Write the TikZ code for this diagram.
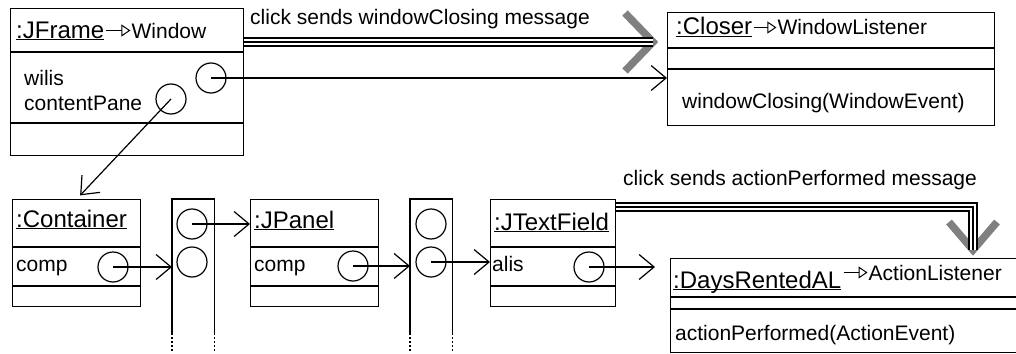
\documentclass[tikz,border=0pt]{standalone}
\usepackage{fontspec}
\setmainfont{Liberation Sans}
\usetikzlibrary{arrows.meta}
\usetikzlibrary{calc}
\usetikzlibrary{positioning}

\newcommand\txtfont{\fontsize{21pt}{25pt}\selectfont}
\newcommand\namefont{\fontsize{24pt}{28pt}\selectfont}
\newcommand\objname[1]{\underline{\raisebox{0pt}[\height][0pt]{#1}}}

\tikzset{
	obj/.style={draw, line width=1.4pt, rectangle, inner sep=0pt, anchor=north west},
	arr/.style={rectangle, inner sep=0pt, anchor=north west, minimum width=42pt, minimum height=134pt},
	slot/.style={draw, circle, line width=1.2pt, inner sep=0pt, minimum size=30pt},
	txt/.style={anchor=base west, inner sep=0pt, font=\txtfont},
	oname/.style={txt, font=\namefont},
	wall/.style={line width=1.4pt},
	ref/.style={line width=1.2pt, -{Straight Barb[length=15pt,width=25pt]}},
	realize/.style={line width=1pt, -{Triangle[open,length=9pt,width=12pt]}, shorten <=2pt, shorten >=1pt},
	msg/.style={line width=9.5pt, postaction={draw=white, line width=6.5pt}, postaction={draw=black, line width=1.5pt}},
	msghead/.style={draw=black!50, line width=7.5pt}
}

\begin{document}
\begin{tikzpicture}[x=1pt, y=-1pt]
	\useasboundingbox (0,0) rectangle (1016,353);
	\path
	(10,8) node[obj, minimum width=233pt, minimum height=147pt] (jframe) {}
	(667,12) node[obj, minimum width=327pt, minimum height=113pt] (closer) {}
	(12,199) node[obj, minimum width=128pt, minimum height=107pt] (container) {}
	(250,199) node[obj, minimum width=128pt, minimum height=107pt] (jpanel) {}
	(490,199) node[obj, minimum width=125pt, minimum height=107pt] (jtext) {}
	(670,258) node[obj, minimum width=360pt, minimum height=94pt] (daysal) {}
	(172,199) node[arr] (arrA) {}
	(410,199) node[arr] (arrB) {};

	\draw[wall] (jframe.west |- 0,52) -- (jframe.east |- 0,52) (jframe.west |- 0,123) -- (jframe.east |- 0,123);
	\draw[wall] (closer.west |- 0,48) -- (closer.east |- 0,48) (closer.west |- 0,69) -- (closer.east |- 0,69);
	\draw[wall] (container.west |- 0,247) -- (container.east |- 0,247) (container.west |- 0,286) -- (container.east |- 0,286);
	\draw[wall] (jpanel.west |- 0,247) -- (jpanel.east |- 0,247) (jpanel.west |- 0,286) -- (jpanel.east |- 0,286);
	\draw[wall] (jtext.west |- 0,247) -- (jtext.east |- 0,247) (jtext.west |- 0,286) -- (jtext.east |- 0,286);
	\draw[wall] (daysal.west |- 0,297) -- (daysal.east |- 0,297) (daysal.west |- 0,309) -- (daysal.east |- 0,309);

	\draw[wall] (arrA.south west) -- (arrA.north west) -- (arrA.north east) -- (arrA.south east);
	\draw[wall, dash pattern=on 1.5pt off 2.5pt] (arrA.south west) -- ++(0,20) (arrA.south east) -- ++(0,20);
	\draw[wall] (arrB.south west) -- (arrB.north west) -- (arrB.north east) -- (arrB.south east);
	\draw[wall, dash pattern=on 1.5pt off 2.5pt] (arrB.south west) -- ++(0,20) (arrB.south east) -- ++(0,20);

	\path
	(211,78) node[slot] (wilis) {}
	(171,99) node[slot] (pane) {}
	(113,267) node[slot] (ccomp) {}
	(192,224) node[slot] (a1top) {}
	(192,262) node[slot] (a1bot) {}
	(353,266) node[slot] (pcomp) {}
	(431,224) node[slot] (a2top) {}
	(431,262) node[slot] (a2bot) {}
	(589,267) node[slot] (alis) {};

	\path
	(16,38) node[oname] (jfname) {\objname{:JFrame}}
	(24,85) node[txt] (wilist) {wilis}
	(24,110) node[txt] (panet) {contentPane}
	(676,35) node[oname] (clname) {\objname{:Closer}}
	(682,108) node[txt] (clop) {windowClosing(WindowEvent)}
	(16,227) node[oname] (cname) {\objname{:Container}}
	(16,271) node[txt] (ccompt) {comp}
	(254,228) node[oname] (pname) {\objname{:JPanel}}
	(254,271) node[txt] (pcompt) {comp}
	(494,230) node[oname] (tname) {\objname{:JTextField}}
	(492,271) node[txt] (alist) {alis}
	(673,288) node[oname] (dname) {\objname{:DaysRentedAL}}
	(675,340) node[txt] (dop) {actionPerformed(ActionEvent)}
	(250,25) node[txt] (wcmsg) {click sends windowClosing message}
	(623,185) node[txt] (apmsg) {click sends actionPerformed message};
	\node[txt, base right=27pt of jfname] (jfif) {Window};
	\node[txt, base right=25pt of clname] (clif) {WindowListener};
	\node[txt, base right=27pt of dname, yshift=8pt] (dif) {ActionListener};

	\draw[realize] (jfname.east |- jfif.west) -- (jfif.west);
	\draw[realize] (clname.east |- clif.west) -- (clif.west);
	\draw[realize] (dname.east |- dif.west) -- (dif.west);

	\draw[ref] (wilis.center) -- (wilis.center -| closer.west);
	\draw[ref, shorten >=5pt] (pane.center) -- (container.north);
	\draw[ref] (ccomp.center) -- (ccomp.center -| arrA.west);
	\draw[ref] (a1top.center) -- (a1top.center -| jpanel.west);
	\draw[ref] (pcomp.center) -- (pcomp.center -| arrB.west);
	\draw[ref] (a2bot.center) -- (a2bot.center -| jtext.west);
	\draw[ref, shorten >=15pt] (alis.center) -- (alis.center -| daysal.west);

	\coordinate (wctip) at (653,42);
	\coordinate (aptip) at (973,250);
	\draw[msghead] (wctip) ++(-28,-29) -- (wctip) -- ++(-28,29);
	\draw[msg] (jframe.east |- wctip) -- (wctip);
	\draw[msghead] (aptip) ++(-24,-28) -- (aptip) -- ++(24,-28);
	\draw[msg] (jtext.east |- 0,207) -| (aptip);
\end{tikzpicture}
\end{document}
